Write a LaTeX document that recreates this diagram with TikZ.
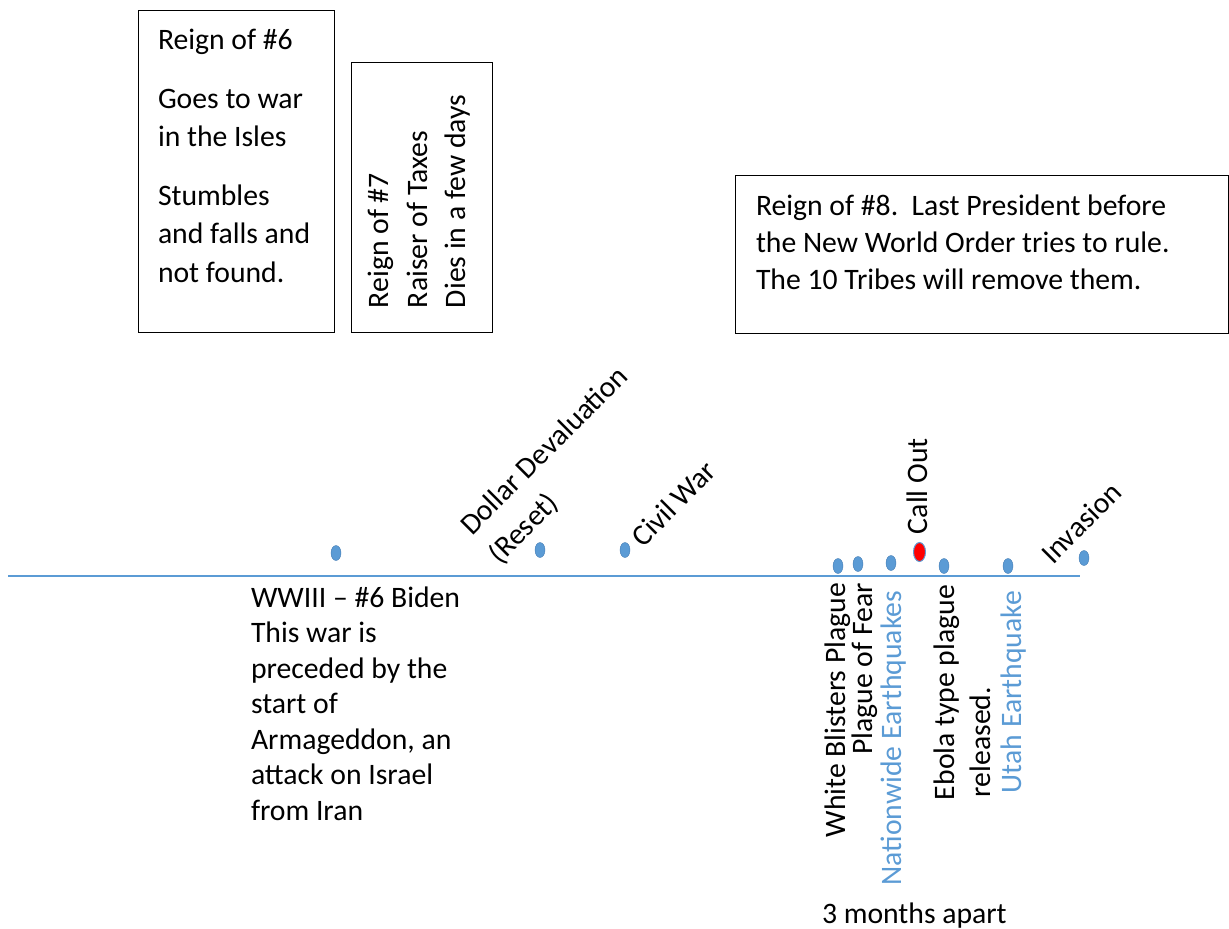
\documentclass[tikz,border=0pt]{standalone}
\usepackage{fontspec}
\setmainfont{Carlito}
\usetikzlibrary{shapes.geometric}
\definecolor{accent}{RGB}{91,155,213}
\definecolor{accentdark}{RGB}{70,125,180}
\tikzset{
  framebox/.style={draw=black, line width=1.4pt, inner sep=0pt, anchor=north west},
  txt/.style={font=\fontsize{29.7}{38}\selectfont, inner sep=0pt, outer sep=0pt, anchor=base west, text=black},
  btxt/.style={txt, text=accent},
  tl/.style={draw=accent, line width=1.5pt},
  evdot/.style={ellipse, fill=accent, draw=accentdark, line width=0.4pt, minimum width=10pt, minimum height=15pt, inner sep=0pt},
  reddot/.style={ellipse, fill=red, draw=accent, line width=1pt, minimum width=12pt, minimum height=19pt, inner sep=0pt}
}
\begin{document}
\begin{tikzpicture}[x=1pt,y=-1pt]
\useasboundingbox (0,0) rectangle (1229,929);
% boxes
\node[framebox, minimum width=196pt, minimum height=322pt] (box6) at (138,10) {};
\node[framebox, minimum width=141pt, minimum height=270pt] (box7) at (350.5,62) {};
\node[framebox, minimum width=493pt, minimum height=158pt] (box8) at (735,175) {};
% box 6 text
\node[txt] (b6a) at (158,49) {Reign of \#6};
\node[txt] (b6b) at (158,108) {Goes to war};
\node[txt] (b6c) at (158,146) {in the Isles};
\node[txt] (b6d) at (158,205) {Stumbles};
\node[txt] (b6e) at (158,243) {and falls and};
\node[txt] (b6f) at (158,282) {not found.};
% box 7 text
\node[txt, rotate=90] (b7a) at (388,308) {Reign of \#7};
\node[txt, rotate=90] (b7b) at (427,308) {Raiser of Taxes};
\node[txt, rotate=90] (b7c) at (465.5,308) {Dies in a few days};
% box 8 text
\node[txt] (b8a) at (756,215) {Reign of \#8.\ \ Last President before};
\node[txt] (b8b) at (756,252) {the New World Order tries to rule.};
\node[txt] (b8c) at (756,289) {The 10 Tribes will remove them.};
% timeline
\coordinate (ls) at (8,576);
\coordinate (le) at (1080,576);
\draw[tl] (ls) -- (le);
% dots
\node[evdot] (d1) at (336,553) {};
\node[evdot] (d2) at (540,550) {};
\node[evdot] (d3) at (625,550) {};
\node[evdot] (d4) at (838,566) {};
\node[evdot] (d5) at (858,564) {};
\node[evdot] (d6) at (891,563) {};
\node[reddot] (d7) at (919.5,552) {};
\node[evdot] (d8) at (944,566) {};
\node[evdot] (d9) at (1008,566) {};
\node[evdot] (d10) at (1084,558) {};
% labels above
\node[txt, rotate=45] (ddev) at (472,536) {Dollar Devaluation};
\node[txt, rotate=45] (dres) at (500,565) {(Reset)};
\node[txt, rotate=45] (cw) at (643,548) {Civil War};
\node[txt, rotate=90] (co) at (927,534) {Call Out};
\node[txt, rotate=45] (inv) at (1053,565) {Invasion};
% labels below
\node[txt] (w1) at (251,607) {WWIII \textendash{} \#6 Biden};
\node[txt] (w2) at (251,642.5) {This war is};
\node[txt] (w3) at (251,678) {preceded by the};
\node[txt] (w4) at (251,713.5) {start of};
\node[txt] (w5) at (251,749) {Armageddon, an};
\node[txt] (w6) at (251,784.5) {attack on Israel};
\node[txt] (w7) at (251,820) {from Iran};
\node[txt, rotate=90, anchor=base east] (wb) at (845,583) {White Blisters Plague};
\node[txt, rotate=90, anchor=base east] (pf) at (872,583) {Plague of Fear};
\node[btxt, rotate=90, anchor=base east] (ne) at (901,591) {Nationwide Earthquakes};
\node[txt, rotate=90, anchor=base east] (eb) at (954,585) {Ebola type plague};
\node[txt, rotate=90] (rel) at (990,797) {released.};
\node[btxt, rotate=90, anchor=base east] (ue) at (1021,591) {Utah Earthquake};
\node[txt] (tm) at (822,923) {3 months apart};
\end{tikzpicture}
\end{document}
